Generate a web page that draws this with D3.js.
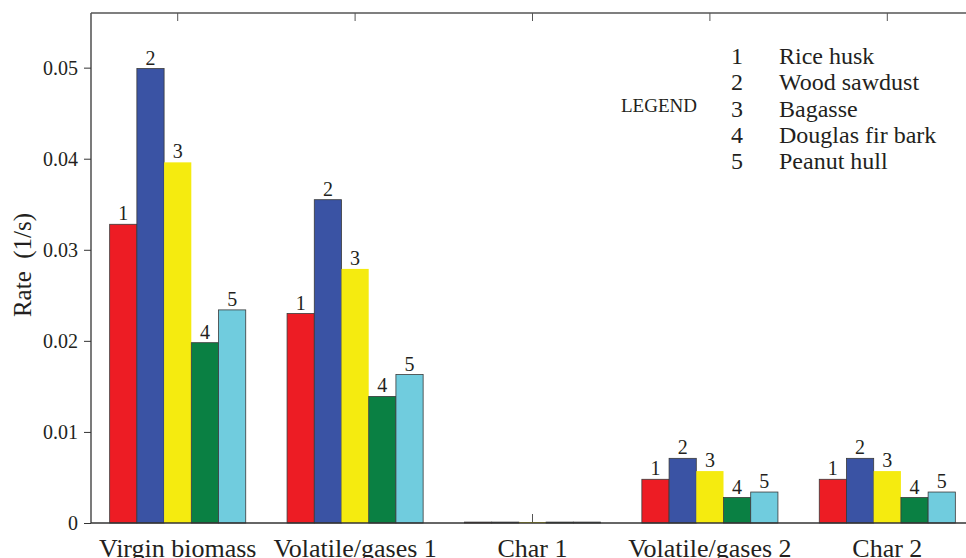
<!DOCTYPE html>
<html>
<head>
<script src="https://d3js.org/d3.v7.min.js"></script>
<style>
  body { margin: 0; background: #fff; }
  text { font-family: "Liberation Serif", "DejaVu Serif", serif; fill: #231f20; }
</style>
</head>
<body>
<div id="chart"></div>
<script>
// data
var categories = ["Virgin biomass", "Volatile/gases 1", "Char 1", "Volatile/gases 2", "Char 2"];
var biomass = ["Rice husk", "Wood sawdust", "Bagasse", "Douglas fir bark", "Peanut hull"];
var riceHusk      = [0.0328, 0.0230, 0.0001, 0.0048, 0.0048];
var woodSawdust   = [0.0499, 0.0355, 0.0001, 0.0071, 0.0071];
var bagasse       = [0.0396, 0.0279, 0.0001, 0.0057, 0.0057];
var douglasFir    = [0.0198, 0.0139, 0.0001, 0.0028, 0.0028];
var peanutHull    = [0.0234, 0.0163, 0.0001, 0.0034, 0.0034];
var yTicks = [0, 0.01, 0.02, 0.03, 0.04, 0.05];

var series = [riceHusk, woodSawdust, bagasse, douglasFir, peanutHull];
var colors = ["#ed1c24", "#3a53a4", "#f5eb0f", "#0a8043", "#70ccde"];

var W = 966, H = 558;
var plotLeft = 91, plotTop = 13, plotBottom = 523;

var svg = d3.select("#chart").append("svg")
    .attr("width", W)
    .attr("height", H);

var x = d3.scaleBand()
    .domain(categories)
    .range([89, 976])
    .paddingInner(0.233)
    .paddingOuter(0.1165);

var xs = d3.scaleBand()
    .domain(d3.range(5))
    .range([0, x.bandwidth()]);

var y = d3.scaleLinear()
    .domain([0, 0.056])
    .range([plotBottom, plotTop]);

// build rows for bars
var rows = [];
categories.forEach(function(c, i) {
    series.forEach(function(s, j) {
        rows.push({cat: c, k: j, v: s[i]});
    });
});

// x ticks inward, top and bottom (drawn first so bars cover them)
var xTop = svg.append("g")
    .attr("transform", "translate(0," + plotTop + ")")
    .call(d3.axisTop(x).tickSize(-8).tickFormat(""));
xTop.select(".domain").remove();
xTop.selectAll("line").attr("stroke", "#555");

var xBot = svg.append("g")
    .attr("transform", "translate(0," + plotBottom + ")")
    .call(d3.axisBottom(x).tickSize(-9).tickPadding(0));
xBot.select(".domain").remove();
xBot.selectAll("line").attr("stroke", "#555");
xBot.selectAll("text")
    .attr("font-size", "26px")
    .attr("font-family", "Liberation Serif, serif")
    .attr("fill", "#231f20")
    .attr("y", 34)
    .attr("dy", null);

// bars
svg.append("g").selectAll("rect")
    .data(rows)
    .enter()
    .append("rect")
    .attr("x", function(d) { return x(d.cat) + xs(d.k); })
    .attr("y", function(d) { return y(d.v); })
    .attr("width", xs.bandwidth())
    .attr("height", function(d) { return y(0) - y(d.v); })
    .attr("fill", function(d) { return colors[d.k]; })
    .attr("stroke", function(d) { return d.k == 2 ? "none" : "#3a3a3a"; })
    .attr("stroke-width", 0.8);

// number labels above bars (not on Char 1)
svg.append("g").selectAll("text")
    .data(rows.filter(function(d) { return d.cat != "Char 1"; }))
    .enter()
    .append("text")
    .attr("x", function(d) { return x(d.cat) + xs(d.k) + xs.bandwidth() / 2; })
    .attr("y", function(d) { return y(d.v) - 4; })
    .attr("text-anchor", "middle")
    .attr("font-size", "20px")
    .text(function(d) { return d.k + 1; });

// y axis
var yAxis = svg.append("g")
    .attr("transform", "translate(" + plotLeft + ",0)")
    .call(d3.axisLeft(y).tickValues(yTicks).tickSize(7).tickPadding(6)
        .tickFormat(function(d) { return d == 0 ? "0" : d3.format(".2f")(d); }));
yAxis.select(".domain").remove();
yAxis.selectAll("line").attr("stroke", "#333");
yAxis.selectAll("text")
    .attr("font-size", "20px")
    .attr("font-family", "Liberation Serif, serif")
    .attr("fill", "#231f20");

// frame: left, top, bottom
svg.append("line").attr("x1", plotLeft).attr("x2", plotLeft).attr("y1", plotTop).attr("y2", plotBottom)
    .attr("stroke", "#333").attr("stroke-width", 1.3);
svg.append("line").attr("x1", plotLeft).attr("x2", W).attr("y1", plotTop).attr("y2", plotTop)
    .attr("stroke", "#555").attr("stroke-width", 1.3);
svg.append("line").attr("x1", plotLeft).attr("x2", W).attr("y1", plotBottom).attr("y2", plotBottom)
    .attr("stroke", "#333").attr("stroke-width", 1.3);

// y label
svg.append("text")
    .attr("transform", "translate(31,265) rotate(-90)")
    .attr("text-anchor", "middle")
    .attr("font-size", "25px")
    .attr("xml:space", "preserve")
    .text("Rate  (1/s)");

// legend
svg.append("text")
    .attr("x", 621).attr("y", 112)
    .attr("font-size", "19px")
    .text("LEGEND");

var leg = svg.append("g").selectAll("g")
    .data(biomass)
    .enter()
    .append("g")
    .attr("transform", function(d, i) { return "translate(0," + (64 + i * 26.25) + ")"; });
leg.append("text")
    .attr("x", 737).attr("text-anchor", "middle")
    .attr("font-size", "24px")
    .text(function(d, i) { return i + 1; });
leg.append("text")
    .attr("x", 779)
    .attr("font-size", "24px")
    .text(function(d) { return d; });
</script>
</body>
</html>
